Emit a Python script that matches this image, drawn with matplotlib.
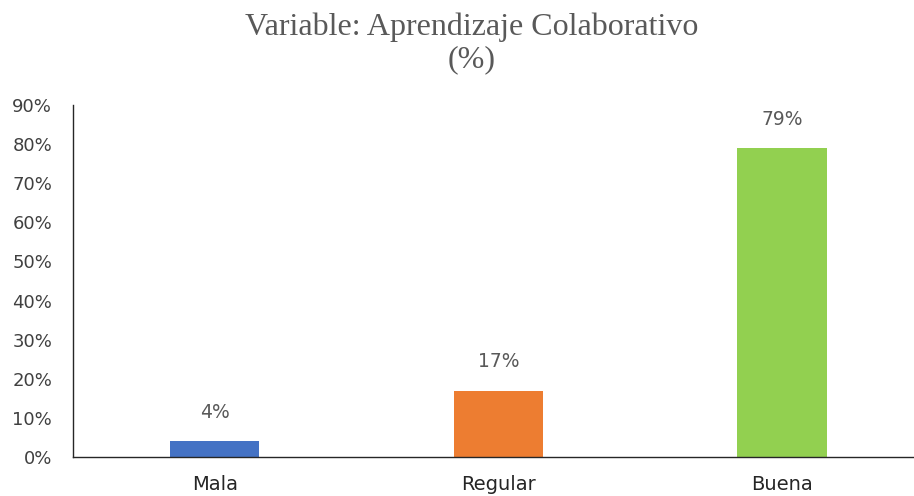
import matplotlib
matplotlib.use("Agg")
import matplotlib.pyplot as plt
from matplotlib.ticker import FuncFormatter

categories = ["Mala", "Regular", "Buena"]
values = [4, 17, 79]
colors = ["#4472C4", "#ED7D31", "#92D050"]
yticks = [0, 10, 20, 30, 40, 50, 60, 70, 80, 90]

fig = plt.figure(figsize=(9.14, 4.96), dpi=100)
ax = fig.add_axes([73 / 914, 1 - 457 / 496, 1 - 73 / 914, (457 - 105) / 496])

x = list(range(len(categories)))
bars = ax.bar(x, values, width=0.315, color=colors, zorder=2)

for xi, v in zip(x, values):
    ax.annotate(f"{v}%", (xi, v), xytext=(0, 14), textcoords="offset points",
                ha="center", va="bottom", fontsize=13.5, color="#595959",
                family="DejaVu Sans")

ax.set_xlim(-0.5, 2.466)
ax.set_ylim(0, 90)
ax.set_yticks(yticks)
ax.yaxis.set_major_formatter(FuncFormatter(lambda v, p: f"{v:.0f}%"))
ax.set_xticks(x)
ax.set_xticklabels(categories)

ax.tick_params(axis="y", length=0, pad=15, labelsize=13, labelcolor="#404040")
ax.tick_params(axis="x", length=0, pad=13, labelsize=14, labelcolor="#262626")

for side in ["top", "right"]:
    ax.spines[side].set_visible(False)
for side in ["left", "bottom"]:
    ax.spines[side].set_color("#262626")
    ax.spines[side].set_linewidth(1.0)

fig.text(472 / 914, 1 - 27 / 496, "Variable: Aprendizaje Colaborativo",
         ha="center", va="center", fontsize=23, color="#595959",
         family="Liberation Serif")
fig.text(472 / 914, 1 - 60 / 496, "(%)",
         ha="center", va="center", fontsize=23, color="#595959",
         family="Liberation Serif")

fig.savefig("out.png", dpi=100)
